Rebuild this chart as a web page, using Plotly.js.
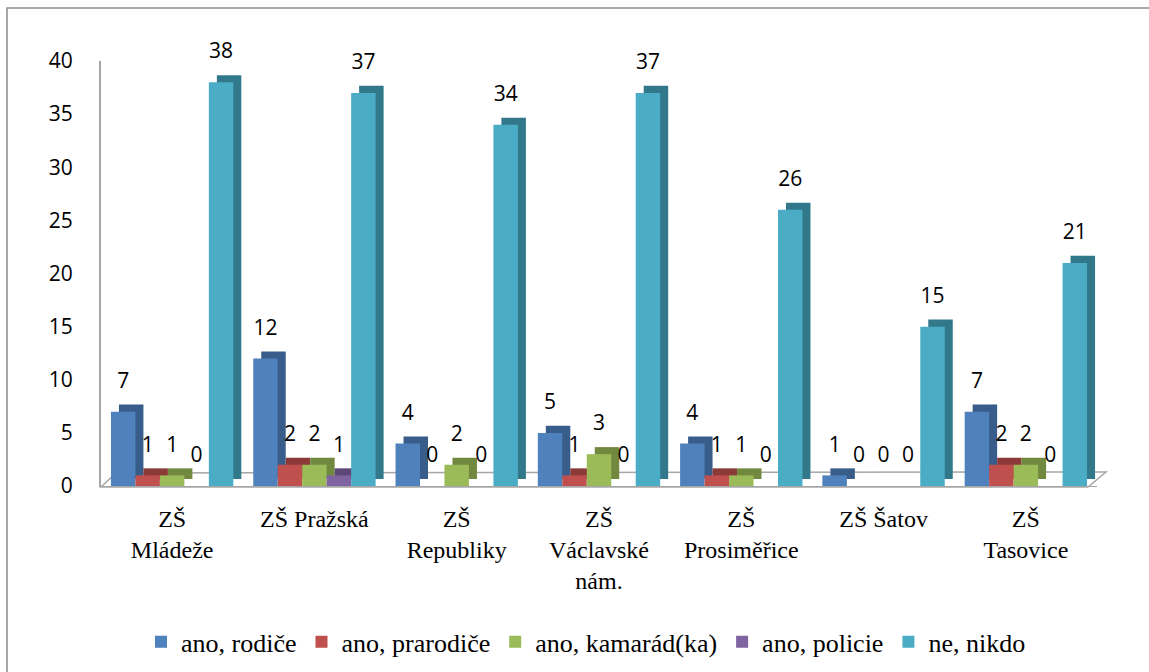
<!DOCTYPE html>
<html>
<head>
<meta charset="utf-8">
<script src="https://cdn.plot.ly/plotly-3.0.1.min.js"></script>
<style>html,body{margin:0;padding:0;background:#fff;}#chart{width:1149px;height:672px;}</style>
</head>
<body>
<div id="chart"></div>
<script>
const categories = ["ZŠ<br>Mládeže", "ZŠ Pražská", "ZŠ<br>Republiky", "ZŠ<br>Václavské<br>nám.", "ZŠ<br>Prosiměřice", "ZŠ Šatov", "ZŠ<br>Tasovice"];
const seriesNames = ["ano, rodiče", "ano, prarodiče", "ano, kamarád(ka)", "ano, policie", "ne, nikdo"];
const rodice    = [7, 12, 4, 5, 4, 1, 7];
const prarodice = [1, 2, 0, 1, 1, 0, 2];
const kamarad   = [1, 2, 2, 3, 1, 0, 2];
const policie   = [0, 1, 0, 0, 0, 0, 0];
const nikdo     = [38, 37, 34, 37, 26, 15, 21];
const yTicks = [0, 5, 10, 15, 20, 25, 30, 35, 40];

const seriesValues = [rodice, prarodice, kamarad, policie, nikdo];
const frontColors = ["#4F81BD", "#C0504D", "#9BBB59", "#8064A2", "#4BACC6"];
const sideColors  = ["#385D8A", "#8C3A38", "#71893F", "#5C4776", "#31788B"];

const SERIF = "'Times New Roman', 'Liberation Serif', 'DejaVu Serif', serif";
const SANS = "'Open Sans', sans-serif";

const traces = [];
// depth (side/top) faces on base axes (drawn first, i.e. behind)
seriesValues.forEach((vals, i) => {
  traces.push({
    type: "bar", x: categories, y: vals, xaxis: "x", yaxis: "y",
    marker: {color: sideColors[i], line: {width: 0}},
    showlegend: false, hoverinfo: "skip", name: seriesNames[i] + " side"
  });
});
// front faces on overlay axes (drawn above)
seriesValues.forEach((vals, i) => {
  traces.push({
    type: "bar", x: categories, y: vals, xaxis: "x2", yaxis: "y2",
    marker: {color: frontColors[i], line: {width: 0}},
    name: seriesNames[i]
  });
});
// value labels
seriesValues.forEach((vals, i) => {
  traces.push({
    type: "bar", x: categories, y: vals, xaxis: "x2", yaxis: "y3",
    marker: {color: "rgba(0,0,0,0)"},
    text: vals.map(String), textposition: "outside", constraintext: "none",
    cliponaxis: false,
    textfont: {family: SANS, size: 21, color: "#000"},
    showlegend: false, hoverinfo: "skip", name: seriesNames[i] + " label"
  });
});

const L = 101, R = 52, T = 61, B = 186;
const W = 1149 - L - R, H = 672 - T - B;
const px = v => (v - L) / W;
const py = v => (672 - B - v) / H;

const layout = {
  width: 1149, height: 672,
  margin: {l: L, r: R, t: T, b: B, pad: 0},
  paper_bgcolor: "#fff", plot_bgcolor: "rgba(0,0,0,0)",
  barmode: "group", bargap: 0.14, bargroupgap: 0,
  showlegend: true,
  legend: {
    orientation: "h", xref: "container", yref: "container",
    x: 0.51, xanchor: "center", y: 0.045, yanchor: "middle",
    font: {family: SERIF, size: 26, color: "#000"},
    itemwidth: 30, tracegroupgap: 0
  },
  xaxis: {type: "category", range: [-0.5 - 0.0562, 6.5 - 0.0562], visible: false},
  yaxis: {range: [-0.66, 40 - 0.66], visible: false},
  xaxis2: {
    type: "category", overlaying: "x", range: [-0.5, 6.5],
    showline: true, linecolor: "#a6a6a6", linewidth: 1,
    ticks: "", showgrid: false, zeroline: false,
    tickfont: {family: SERIF, size: 24, color: "#000"},
    ticklabelstandoff: 11
  },
  yaxis2: {
    overlaying: "y", range: [0, 40], tickvals: yTicks,
    showline: true, linecolor: "#a6a6a6", linewidth: 2,
    ticks: "", showgrid: false, zeroline: false,
    tickfont: {family: SANS, size: 21, color: "#000"},
    ticklabelstandoff: 22
  },
  yaxis3: {overlaying: "y", range: [-1.4, 40 - 1.4], visible: false},
  shapes: [
    {type: "rect", xref: "paper", yref: "paper",
     x0: px(7), x1: px(1160), y0: py(690), y1: py(8),
     line: {color: "#8c8c8c", width: 1.5}, fillcolor: "rgba(0,0,0,0)", layer: "below"},
    {type: "path", xref: "paper", yref: "paper",
     path: `M ${px(101)},${py(487)} L ${px(1088)},${py(487)} L ${px(1106)},${py(472)} L ${px(116)},${py(473)} Z`,
     line: {color: "#a6a6a6", width: 1.5}, fillcolor: "rgba(0,0,0,0)", layer: "below"}
  ]
};

Plotly.newPlot("chart", traces, layout, {staticPlot: true, displayModeBar: false});
</script>
</body>
</html>
